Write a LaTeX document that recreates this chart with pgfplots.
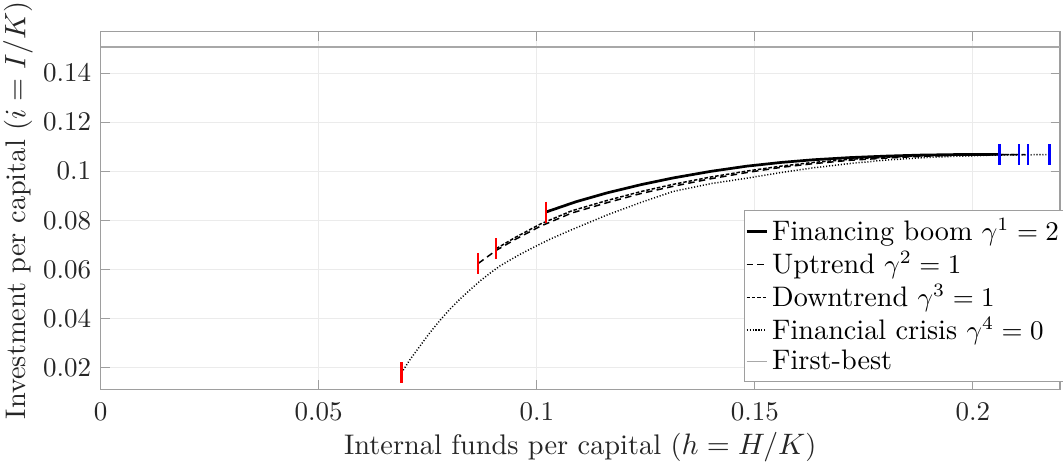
\documentclass[border=0pt]{standalone}
\usepackage{pgfplots}
\pgfplotsset{compat=1.18}
\definecolor{axgray}{rgb}{0.62,0.62,0.62}
\definecolor{gridgray}{rgb}{0.92,0.92,0.92}
\definecolor{fbgray}{rgb}{0.66,0.66,0.66}
\definecolor{txt}{rgb}{0.15,0.15,0.15}
\begin{document}
\begin{tikzpicture}
\begin{axis}[
  name=ax,
  scale only axis,
  width=355.3pt, height=132.6pt,
  xmin=0, xmax=0.22, ymin=0.0112, ymax=0.157,
  xtick={0,0.05,0.1,0.15,0.2},
  xticklabels={0,0.05,0.1,0.15,0.2},
  ytick={0.02,0.04,0.06,0.08,0.1,0.12,0.14},
  yticklabels={0.02,0.04,0.06,0.08,0.1,0.12,0.14},
  scaled ticks=false,
  tick align=inside,
  major tick length=3.4pt,
  axis line style={axgray},
  every tick/.style={axgray, line width=0.4pt},
  tick label style={txt},
  xticklabel style={anchor=base, yshift=-11.6pt},
  grid=major,
  major grid style={gridgray, line width=0.4pt},
  xlabel={Internal funds per capital ($h = H/K$)},
  ylabel={Investment per capital ($i = I/K$)},
  every axis x label/.style={at={(axis description cs:0.5,-0.181)}, anchor=base, font=\fontsize{10.5}{12.6}\selectfont, txt},
  every axis y label/.style={at={(axis description cs:-0.0862,0.5)}, rotate=90, anchor=center, font=\fontsize{10.5}{12.6}\selectfont, txt},
  legend cell align=left,
  legend image code/.code={\draw[#1] (0pt,0pt) -- (7.6pt,0pt);},
  legend style={at={(1.004,0.5)}, anchor=north east, draw=axgray, fill=white,
    font=\fontsize{10.45}{12.5}\selectfont, text=black,
    inner xsep=0.2pt, inner ysep=1.5pt, row sep=-0.3pt,
    nodes={inner sep=1.4pt}},
]
% Financing boom
\addplot[black, line width=1pt] coordinates {
(0.1021,0.0834) (0.1090,0.0876) (0.1161,0.0912) (0.1240,0.0946) (0.1313,0.0973)
(0.1400,0.1000) (0.1482,0.1021) (0.1560,0.1036) (0.1634,0.1047) (0.1720,0.1056)
(0.1803,0.1062) (0.1880,0.1066) (0.1956,0.1068) (0.2061,0.1069)};
\addlegendentry{Financing boom $\gamma^1 = 2$}
% Uptrend
\addplot[black, line width=0.55pt, dash pattern=on 2.4pt off 1.6pt] coordinates {
(0.0866,0.0625) (0.0907,0.0678) (0.0950,0.0722) (0.1008,0.0776) (0.1080,0.0830)
(0.1161,0.0872) (0.1240,0.0910) (0.1313,0.0939) (0.1400,0.0970) (0.1482,0.0995)
(0.1560,0.1016) (0.1634,0.1031) (0.1720,0.1045) (0.1803,0.1054) (0.1880,0.1061)
(0.1956,0.1065) (0.2050,0.1068) (0.2106,0.1068)};
\addlegendentry{Uptrend $\gamma^2 = 1$}
% Downtrend
\addplot[black, line width=0.55pt, dash pattern=on 1.3pt off 0.7pt] coordinates {
(0.0907,0.0685) (0.0950,0.0730) (0.1008,0.0785) (0.1080,0.0839) (0.1161,0.0881)
(0.1240,0.0918) (0.1313,0.0947) (0.1400,0.0977) (0.1482,0.1001) (0.1560,0.1021)
(0.1634,0.1036) (0.1720,0.1049) (0.1803,0.1057) (0.1880,0.1063) (0.1956,0.1066)
(0.2050,0.1068) (0.2126,0.1068)};
\addlegendentry{Downtrend $\gamma^3 = 1$}
% Financial crisis
\addplot[black, line width=0.55pt, dash pattern=on 0.4pt off 0.7pt] coordinates {
(0.0690,0.0180) (0.0710,0.0235) (0.0732,0.0288) (0.0755,0.0343) (0.0778,0.0393)
(0.0800,0.0437) (0.0824,0.0480) (0.0850,0.0522) (0.0871,0.0555) (0.0895,0.0588)
(0.0916,0.0615) (0.0940,0.0640) (0.0962,0.0662) (0.1000,0.0697) (0.1031,0.0724)
(0.1080,0.0762) (0.1161,0.0822) (0.1240,0.0874) (0.1313,0.0918) (0.1400,0.0950)
(0.1482,0.0972) (0.1560,0.0995) (0.1634,0.1014) (0.1720,0.1032) (0.1803,0.1046)
(0.1880,0.1055) (0.1956,0.1061) (0.2050,0.1066) (0.2176,0.1068)};
\addlegendentry{Financial crisis $\gamma^4 = 0$}
% First-best
\addplot[fbgray, line width=0.6pt] coordinates {(0,0.1505) (0.22,0.1505)};
\addlegendentry{First-best}
% start markers
\addplot[forget plot, only marks, red, mark=|, mark size=3.9pt, mark options={line width=0.85pt}] coordinates {
(0.1021,0.0834) (0.0866,0.0625) (0.0907,0.0685) (0.0690,0.0180)};
% end markers
\addplot[forget plot, only marks, blue, mark=|, mark size=3.9pt, mark options={line width=0.85pt}] coordinates {
(0.2061,0.1069) (0.2106,0.1068) (0.2126,0.1068) (0.2176,0.1068)};
\end{axis}
\pgfresetboundingbox
\path[use as bounding box] ([xshift=-37.3pt,yshift=-27.7pt]ax.south west) rectangle ([xshift=1.1pt,yshift=11.6pt]ax.north east);
\end{tikzpicture}
\end{document}
